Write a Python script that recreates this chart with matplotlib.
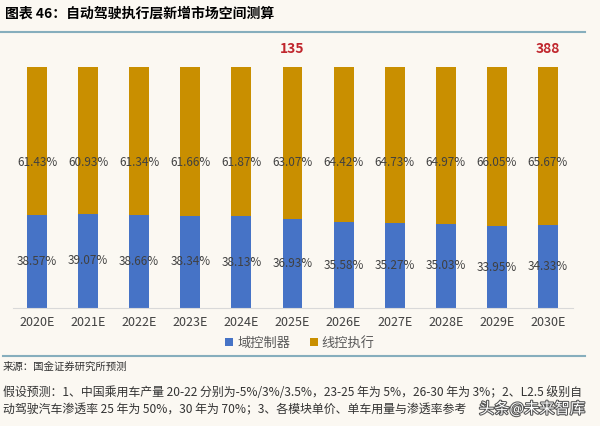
import matplotlib
matplotlib.use("Agg")
import matplotlib.pyplot as plt
import matplotlib.patheffects as pe
from matplotlib.patches import Patch
from matplotlib.lines import Line2D

plt.rcParams["font.family"] = ["Noto Sans CJK SC", "DejaVu Sans"]

years = ["2020E", "2021E", "2022E", "2023E", "2024E", "2025E",
         "2026E", "2027E", "2028E", "2029E", "2030E"]
domain_ctrl = [38.57, 39.07, 38.66, 38.34, 38.13, 36.93, 35.58, 35.27, 35.03, 33.95, 34.33]
wire_exec = [61.43, 60.93, 61.34, 61.66, 61.87, 63.07, 64.42, 64.73, 64.97, 66.05, 65.67]
totals = {"2025E": "135", "2030E": "388"}

BG = "#fbf8f2"
BLUE = "#4673c6"
GOLD = "#c98f00"
RULE = "#86aebd"
TXT = "#404040"

W, H = 600, 426
fig = plt.figure(figsize=(W / 100, H / 100), dpi=100)
fig.patch.set_facecolor(BG)

# plot area in pixel terms: axis line y=308, 100% top y=67, x 13..573
ax = fig.add_axes([13 / W, (H - 308) / H, 560 / W, 241 / H])
ax.set_facecolor(BG)
x = range(len(years))
b1 = ax.bar(x, domain_ctrl, width=0.39, color=BLUE, zorder=2)
b2 = ax.bar(x, wire_exec, width=0.39, bottom=domain_ctrl, color=GOLD, zorder=2)
ax.set_xlim(-0.47, len(years) - 0.51)
ax.set_ylim(0, 100)

ax.bar_label(b1, labels=[f"{v:.2f}%" for v in domain_ctrl], label_type="center",
             fontsize=8.5, color=TXT, fontweight="light")
for i, v in enumerate(wire_exec):
    ax.text(i, 60.4, f"{v:.2f}%", ha="center", va="center", fontsize=8.5, color=TXT,
            fontweight="light")

for i, yr in enumerate(years):
    if yr in totals:
        ax.annotate(totals[yr], xy=(i, 100), xytext=(0, 13), textcoords="offset points",
                    ha="center", va="center", fontsize=10, fontweight="bold",
                    color="#c0262d", annotation_clip=False)

ax.set_xticks(list(x))
ax.set_xticklabels(years, fontsize=9, color=TXT)
ax.tick_params(axis="x", length=0, pad=6)
ax.set_yticks([])
for side in ["left", "right", "top"]:
    ax.spines[side].set_visible(False)
ax.spines["bottom"].set_color("#d9d9d9")

# title and rules
fig.text(5 / W, 1 - 14 / H, "图表 46：自动驾驶执行层新增市场空间测算", fontsize=10,
         fontweight="heavy", color="black", va="center", ha="left")
fig.add_artist(Line2D([0, 585 / W], [1 - 32 / H] * 2, color=RULE, lw=1.5))
fig.add_artist(Line2D([3 / W, 585 / W], [1 - 356 / H] * 2, color=RULE, lw=1.5))

handles = [Patch(facecolor=BLUE, label="域控制器"), Patch(facecolor=GOLD, label="线控执行")]
fig.legend(handles=handles, loc="center", bbox_to_anchor=(0.5, 1 - 343 / H), ncol=2,
           frameon=False, fontsize=9.5, handlelength=0.6, handleheight=0.6,
           handletextpad=0.3, columnspacing=1.5, labelcolor="#595959")

fig.text(3 / W, 1 - 367 / H, "来源：国金证券研究所预测", fontsize=7.5, color="#333333",
         va="center", ha="left")
fig.text(3 / W, 1 - 392 / H,
         "假设预测：1、中国乘用车产量 20-22 分别为-5%/3%/3.5%，23-25 年为 5%，26-30 年为 3%；2、L2.5 级别自",
         fontsize=8.6, color="#333333", va="center", ha="left")
fig.text(3 / W, 1 - 410 / H,
         "动驾驶汽车渗透率 25 年为 50%，30 年为 70%；3、各模块单价、单车用量与渗透率参考",
         fontsize=8.6, color="#333333", va="center", ha="left")
fig.text(585 / W, 1 - 409 / H, "头条@未来智库", fontsize=11, color="white", va="center",
         ha="right", path_effects=[pe.withStroke(linewidth=1.5, foreground="#555555")])

fig.savefig("out.png", dpi=100, facecolor=BG)
